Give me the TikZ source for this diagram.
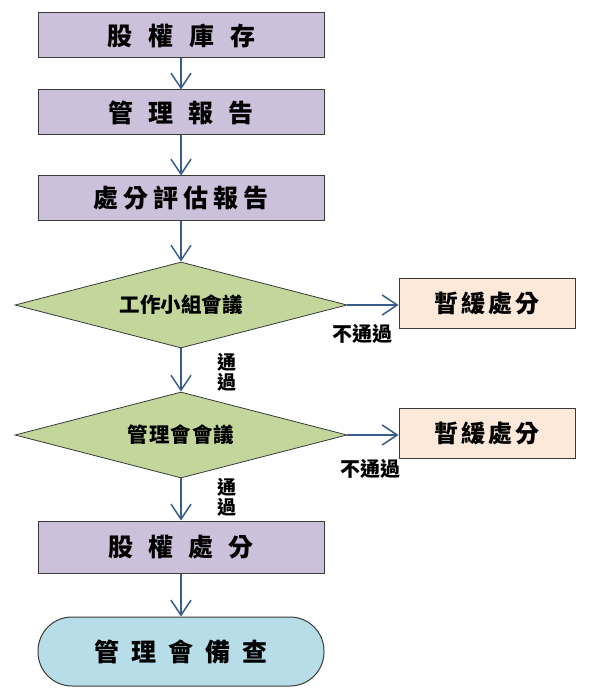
\documentclass[tikz,border=0pt]{standalone}
\usepackage{fontspec}
\newfontfamily\cjk{Noto Sans CJK TC}
\usetikzlibrary{arrows.meta,shapes.geometric}
\definecolor{lav}{HTML}{CCC1DA}
\definecolor{grn}{HTML}{C3D69B}
\definecolor{pch}{HTML}{FDE9D9}
\definecolor{lblue}{HTML}{B7DEE8}
\definecolor{arr}{HTML}{385D8A}
\definecolor{edge}{HTML}{3A3A3A}
\tikzset{
  procbox/.style={draw=edge, line width=1pt, fill=lav, minimum width=286pt, minimum height=45pt, inner sep=0pt, font=\cjk\bfseries\fontsize{25}{25}\selectfont},
  decide/.style={diamond, draw=edge, line width=0.8pt, fill=grn, shape aspect=3.86, minimum width=332pt, minimum height=86pt, inner sep=0pt, font=\cjk\bfseries\fontsize{20.5}{21}\selectfont},
  holdbox/.style={draw=edge, line width=1pt, fill=pch, minimum width=176pt, minimum height=50pt, inner sep=0pt, font=\cjk\bfseries\fontsize{24}{24}\selectfont},
  termbox/.style={draw=edge, line width=1pt, fill=lblue, rounded corners=34pt, minimum width=286pt, minimum height=69pt, inner sep=0pt, font=\cjk\bfseries\fontsize{25}{25}\selectfont},
  lbl/.style={inner sep=0pt, font=\cjk\bfseries\fontsize{19}{20}\selectfont, align=center},
  flow/.style={draw=arr, line width=1.5pt, -{Straight Barb[length=15pt,width=20pt,line width=1.5pt]}}
}
\begin{document}
\begin{tikzpicture}[x=1pt,y=-1pt]
\useasboundingbox (0,0) rectangle (599,700);
\node[procbox] (b1) at (181,35.5) {股\hspace{16pt}權\hspace{16pt}庫\hspace{16pt}存\hspace{14pt}};
\node[procbox] (b2) at (181,112.5) {管\hspace{15pt}理\hspace{15pt}報\hspace{15pt}告\hspace{14pt}};
\node[procbox] (b3) at (181,198.5) {處\hspace{5pt}分\hspace{5pt}評\hspace{5pt}估\hspace{5pt}報\hspace{5pt}告\hspace{6pt}};
\node[decide] (d1) at (181,305) {工作小組會議};
\node[decide] (d2) at (181,435) {管\hspace{1pt}理\hspace{1pt}會\hspace{1pt}會\hspace{1pt}議};
\node[holdbox] (r1) at (487,303) {暫\hspace{3pt}緩\hspace{3pt}處\hspace{3pt}分};
\node[holdbox] (r2) at (487,433) {暫\hspace{3pt}緩\hspace{3pt}處\hspace{3pt}分};
\node[procbox, minimum height=52pt] (b4) at (181,547) {股\hspace{15pt}權\hspace{15pt}處\hspace{15pt}分\hspace{16pt}};
\node[termbox] (t1) at (181,651.5) {管\hspace{12pt}理\hspace{12pt}會\hspace{12pt}備\hspace{12pt}查\hspace{12pt}};
\node[lbl, font=\cjk\bfseries\fontsize{20}{20}\selectfont] (n1) at (362,334) {不通過};
\node[lbl, font=\cjk\bfseries\fontsize{20}{20}\selectfont] (n2) at (370,469) {不通過};
\node[lbl] (p1) at (227,372) {通\\過};
\node[lbl] (p2) at (227,497.5) {通\\過};
\draw[flow] (b1.south) -- (b2.north);
\draw[flow] (b2.south) -- (b3.north);
\draw[flow] (b3.south) -- (d1.north);
\draw[flow] (d1.south) -- (d2.north);
\draw[flow] (d2.south) -- (b4.north);
\draw[flow] (b4.south) -- (t1.north);
\draw[flow] (d1.east) -- (r1.west |- d1.east);
\draw[flow] (d2.east) -- (r2.west |- d2.east);
\end{tikzpicture}
\end{document}
